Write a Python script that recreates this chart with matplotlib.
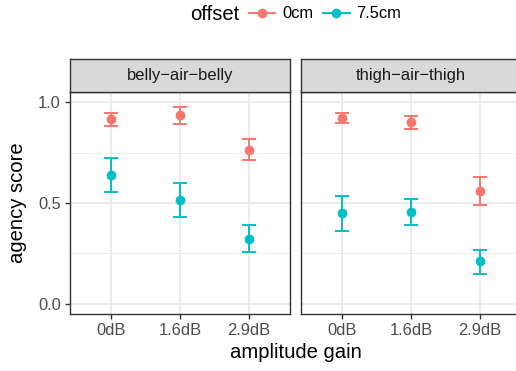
import matplotlib
matplotlib.use("Agg")
import matplotlib.pyplot as plt
from matplotlib.lines import Line2D
import numpy as np

plt.rcParams['font.family'] = ['Liberation Sans', 'DejaVu Sans']

gains = ["0dB", "1.6dB", "2.9dB"]
panels = ["belly\u2212air\u2212belly", "thigh\u2212air\u2212thigh"]
offsets = ["0cm", "7.5cm"]
colors = {"0cm": "#F8766D", "7.5cm": "#00BFC4"}

# panel 1: belly-air-belly
bab_0_mean = [0.914, 0.936, 0.764]
bab_0_lo = [0.881, 0.893, 0.711]
bab_0_hi = [0.947, 0.977, 0.817]
bab_75_mean = [0.639, 0.517, 0.323]
bab_75_lo = [0.556, 0.432, 0.259]
bab_75_hi = [0.723, 0.601, 0.390]
# panel 2: thigh-air-thigh
tat_0_mean = [0.922, 0.901, 0.561]
tat_0_lo = [0.898, 0.869, 0.492]
tat_0_hi = [0.947, 0.932, 0.630]
tat_75_mean = [0.449, 0.455, 0.211]
tat_75_lo = [0.363, 0.390, 0.150]
tat_75_hi = [0.533, 0.520, 0.269]

data = {
    panels[0]: {"0cm": (bab_0_mean, bab_0_lo, bab_0_hi),
                "7.5cm": (bab_75_mean, bab_75_lo, bab_75_hi)},
    panels[1]: {"0cm": (tat_0_mean, tat_0_lo, tat_0_hi),
                "7.5cm": (tat_75_mean, tat_75_lo, tat_75_hi)},
}

W, H = 516, 371
fig = plt.figure(figsize=(W / 100, H / 100), dpi=100)

def fx(px):
    return px / W

def fy(py):
    return 1 - py / H

panel_lefts = [70, 301]
pw = 220
ptop, pbot = 92, 314
stop = 59
border = "#333333"

x = np.arange(1, len(gains) + 1)
for i, pname in enumerate(panels):
    l = panel_lefts[i]
    ax = fig.add_axes([fx(l), fy(pbot), pw / W, (pbot - ptop) / H])
    ax.set_xlim(0.4, 3.6)
    ax.set_ylim(-0.05, 1.05)
    ax.set_xticks(x)
    ax.set_xticklabels(gains)
    ax.set_yticks([0.0, 0.5, 1.0])
    ax.set_yticks([0.25, 0.75], minor=True)
    ax.grid(True, which='major', color='#EBEBEB', linewidth=1.4, zorder=0)
    ax.grid(True, which='minor', axis='y', color='#EBEBEB', linewidth=0.7, zorder=0)
    ax.set_axisbelow(True)
    for s in ax.spines.values():
        s.set_color(border)
        s.set_linewidth(1.0)
    ax.tick_params(which='major', length=3.5, width=1.0, color=border,
                   labelsize=11.9, labelcolor='#4D4D4D', pad=3)
    ax.tick_params(which='minor', length=0)
    if i == 0:
        ax.set_yticklabels(["0.0", "0.5", "1.0"])
    else:
        ax.tick_params(axis='y', which='major', labelleft=False, length=0)
    for off in offsets:
        m, lo, hi = data[pname][off]
        m = np.array(m); lo = np.array(lo); hi = np.array(hi)
        ax.errorbar(x, m, yerr=[m - lo, hi - m], fmt='o', color=colors[off],
                    ms=6.0, elinewidth=1.4, capsize=5.0, capthick=1.4, zorder=3)
    # strip
    sax = fig.add_axes([fx(l), fy(ptop), pw / W, (ptop - stop) / H])
    sax.set_facecolor('#D9D9D9')
    sax.set_xticks([]); sax.set_yticks([])
    for s in sax.spines.values():
        s.set_color(border)
        s.set_linewidth(1.0)
    sax.text(0.5, 0.5, pname, transform=sax.transAxes, ha='center', va='center',
             fontsize=11.9, color='#1A1A1A')

fig.text(fx(18), fy(203), "agency score", rotation=90, ha='center', va='center',
         fontsize=14.6, color='black')
fig.text(fx(296), fy(353), "amplitude gain", ha='center', va='center',
         fontsize=14.6, color='black')

# legend
fig.text(fx(190), fy(14), "offset", ha='left', va='center', fontsize=14.6, color='black')
handles = [Line2D([0], [0], color=colors[o], marker='o', ms=6.0, lw=1.4) for o in offsets]
fig.legend(handles, offsets, ncol=2, loc='center left', bbox_to_anchor=(fx(249), fy(14)),
           frameon=False, fontsize=11.9, handlelength=1.6, handletextpad=0.4,
           columnspacing=0.6, borderpad=0, borderaxespad=0, labelcolor='black')

fig.savefig("out.png", dpi=100)
